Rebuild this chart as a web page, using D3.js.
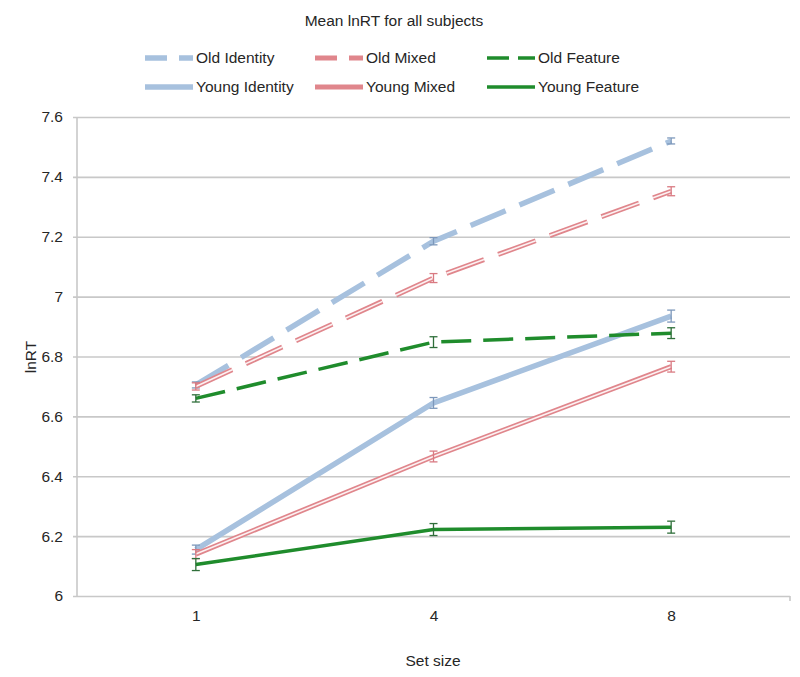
<!DOCTYPE html>
<html>
<head>
<meta charset="utf-8">
<script src="https://cdn.jsdelivr.net/npm/d3@7"></script>
<style>
  body { margin: 0; background: #fff; }
  text { font-family: "Liberation Sans", Arial, sans-serif; }
</style>
</head>
<body>
<div id="chart"></div>
<script>
'use strict';

/*** Data */
const setSizes = [1, 4, 8];
const yTicks = [6, 6.2, 6.4, 6.6, 6.8, 7, 7.2, 7.4, 7.6];

const seriesNames = ["Old Identity", "Old Mixed", "Old Feature",
                     "Young Identity", "Young Mixed", "Young Feature"];

const oldIdentity   = [6.705, 7.185, 7.52];
const oldMixed      = [6.70, 7.062, 7.352];
const oldFeature    = [6.66, 6.848, 6.878];
const youngIdentity = [6.155, 6.645, 6.935];
const youngMixed    = [6.14, 6.466, 6.766];
const youngFeature  = [6.105, 6.222, 6.23];

const oldIdentityErr   = [0.01, 0.012, 0.01];
const oldMixedErr      = [0.012, 0.015, 0.015];
const oldFeatureErr    = [0.012, 0.018, 0.018];
const youngIdentityErr = [0.015, 0.018, 0.02];
const youngMixedErr    = [0.015, 0.018, 0.018];
const youngFeatureErr  = [0.02, 0.02, 0.02];

/*** Styles per series */
const blue = "#a7c1de", pink = "#e0868c", green = "#1f8c2c";
const styles = [
  { color: blue,  width: 5.5, dash: "38,15", mixed: false, bar: "#7d98bb" },
  { color: pink,  width: 5,   dash: "40,15", mixed: true,  bar: "#d97a82" },
  { color: green, width: 3.5, dash: "30,12", mixed: false, bar: "#2f6f3a" },
  { color: blue,  width: 5.5, dash: null,    mixed: false, bar: "#7d98bb" },
  { color: pink,  width: 5,   dash: null,    mixed: true,  bar: "#d97a82" },
  { color: green, width: 3.5, dash: null,    mixed: false, bar: "#2f6f3a" }
];

const values = [oldIdentity, oldMixed, oldFeature, youngIdentity, youngMixed, youngFeature];
const errs = [oldIdentityErr, oldMixedErr, oldFeatureErr, youngIdentityErr, youngMixedErr, youngFeatureErr];

/*** Dimensions */
const w = 800, h = 677;
const plotLeft = 77, plotRight = 790, plotTop = 117, plotBottom = 596;
const textColor = "#262626";

const svg = d3.select("#chart").append("svg")
  .attr("width", w).attr("height", h);

const x = d3.scalePoint().domain(setSizes).range([plotLeft, plotRight]).padding(0.5);
const y = d3.scaleLinear().domain([6, 7.6]).range([plotBottom, plotTop]);

/** Title */
svg.append("text")
  .attr("x", 394).attr("y", 26)
  .attr("text-anchor", "middle")
  .attr("font-size", 15.5).attr("fill", textColor)
  .text("Mean lnRT for all subjects");

/** Grid + y axis */
const yAxis = d3.axisLeft(y).tickValues(yTicks)
  .tickSize(-(plotRight - plotLeft)).tickPadding(14)
  .tickFormat(d => d3.format("")(+d.toFixed(1)));

const gy = svg.append("g").attr("transform", `translate(${plotLeft},0)`).call(yAxis);
gy.select(".domain").remove();
gy.selectAll(".tick line")
  .attr("x1", -4)
  .attr("stroke", "#c8c8c8").attr("stroke-width", 1.6);
gy.selectAll(".tick text")
  .attr("font-size", 15.5).attr("fill", textColor)
  .attr("font-family", "Liberation Sans, Arial, sans-serif");

svg.append("line")
  .attr("x1", plotLeft).attr("x2", plotLeft)
  .attr("y1", plotTop).attr("y2", plotBottom)
  .attr("stroke", "#c8c8c8").attr("stroke-width", 1.6);

svg.append("line")
  .attr("x1", plotRight).attr("x2", plotRight)
  .attr("y1", plotBottom).attr("y2", plotBottom + 5)
  .attr("stroke", "#c8c8c8").attr("stroke-width", 1.6);

/** X axis labels */
const xAxis = d3.axisBottom(x).tickSize(0).tickPadding(14);
const gx = svg.append("g").attr("transform", `translate(0,${plotBottom})`).call(xAxis);
gx.select(".domain").remove();
gx.selectAll(".tick text")
  .attr("font-size", 15.5).attr("fill", textColor)
  .attr("font-family", "Liberation Sans, Arial, sans-serif");

svg.append("text")
  .attr("x", 433).attr("y", 666)
  .attr("text-anchor", "middle")
  .attr("font-size", 15.5).attr("fill", textColor)
  .text("Set size");

svg.append("text")
  .attr("transform", "translate(36,357) rotate(-90)")
  .attr("text-anchor", "middle")
  .attr("font-size", 15.5).attr("fill", textColor)
  .text("lnRT");

/** Lines */
const line = d3.line().x((d, i) => x(setSizes[i])).y(d => y(d));

function drawPath(g, d, s) {
  const p = g.append("path")
    .attr("d", d)
    .attr("fill", "none")
    .attr("stroke", s.color)
    .attr("stroke-width", s.width);
  if (s.dash) p.attr("stroke-dasharray", s.dash);
  if (s.mixed) {
    const q = g.append("path")
      .attr("d", d)
      .attr("fill", "none")
      .attr("stroke", "#fcf1f2")
      .attr("stroke-width", 1.6);
    if (s.dash) q.attr("stroke-dasharray", s.dash);
  }
}

/** Error bars */
function drawErr(g, vals, e, s) {
  vals.forEach((v, i) => {
    const cx = x(setSizes[i]);
    const y1 = y(v - e[i]), y2 = y(v + e[i]);
    g.append("line").attr("x1", cx).attr("x2", cx).attr("y1", y1).attr("y2", y2)
      .attr("stroke", s.bar).attr("stroke-width", 1.3);
    [y1, y2].forEach(yy => g.append("line")
      .attr("x1", cx - 4).attr("x2", cx + 4).attr("y1", yy).attr("y2", yy)
      .attr("stroke", s.bar).attr("stroke-width", 1.3));
  });
}

const order = [3, 4, 5, 0, 1, 2];
order.forEach(k => {
  const g = svg.append("g");
  drawPath(g, line(values[k]), styles[k]);
  drawErr(g, values[k], errs[k], styles[k]);
});

/** Legend */
const legX = [145, 315, 487];
const legY = [58, 87];
seriesNames.forEach((name, k) => {
  const col = k % 3, row = Math.floor(k / 3);
  const g = svg.append("g").attr("transform", `translate(${legX[col]},${legY[row]})`);
  const s = Object.assign({}, styles[k]);
  if (s.dash) s.dash = col === 2 ? "22,9" : "22,12";
  if (s.mixed) s.mixed = false;
  drawPath(g, "M0,0H48", s);
  g.append("text")
    .attr("x", 51).attr("y", 5)
    .attr("font-size", 15.5).attr("fill", textColor)
    .text(name);
});
</script>
</body>
</html>
